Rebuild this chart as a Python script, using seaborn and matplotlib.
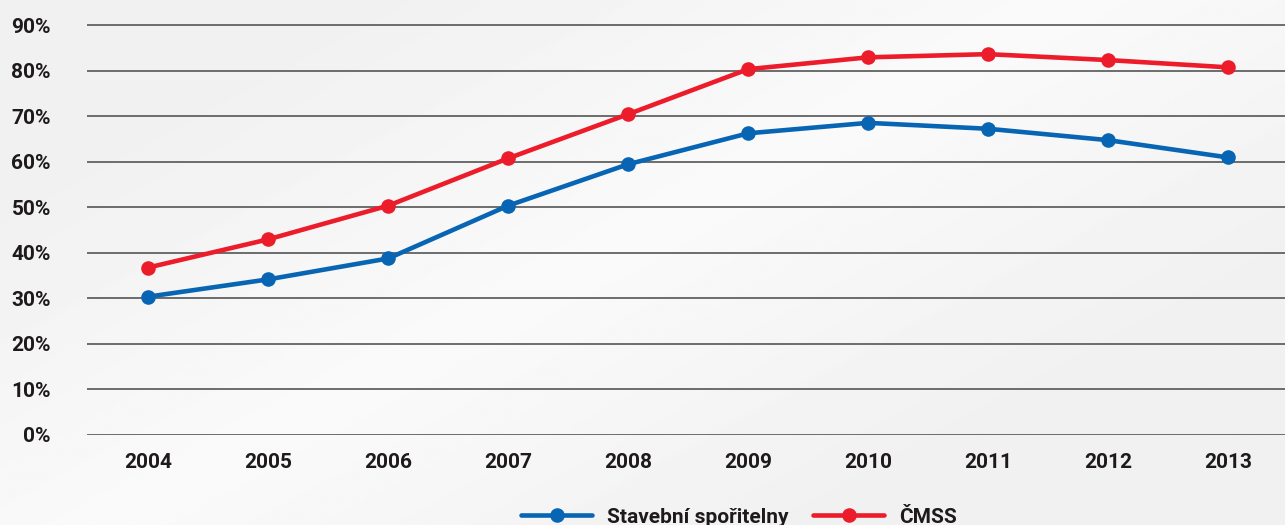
import numpy as np
import pandas as pd
import matplotlib
matplotlib.use("Agg")
import matplotlib.pyplot as plt
import seaborn as sns
from matplotlib.lines import Line2D

years = [2004, 2005, 2006, 2007, 2008, 2009, 2010, 2011, 2012, 2013]
stavebni = [30.4, 34.2, 38.8, 50.4, 59.5, 66.3, 68.6, 67.3, 64.8, 61.0]
cmss = [36.8, 43.0, 50.4, 60.8, 70.5, 80.4, 83.0, 83.7, 82.4, 80.8]
series_names = ["Stavební spořitelny", "ČMSS"]
colors = ["#0765b4", "#ec1c2a"]
ytick_vals = [0, 10, 20, 30, 40, 50, 60, 70, 80, 90]
ytick_labels = [f"{v}%" for v in ytick_vals]

df = pd.DataFrame({
    "year": years * 2,
    "value": stavebni + cmss,
    "series": [series_names[0]] * len(years) + [series_names[1]] * len(years),
})

sns.set_theme(style="white")
FAM = ["Roboto", "DejaVu Sans"]
plt.rcParams["font.family"] = FAM

W, H = 1285, 525
fig = plt.figure(figsize=(W / 100, H / 100), dpi=100)
fig.patch.set_facecolor("#f2f2f2")

# background gradient
bg = fig.add_axes([0, 0, 1, 1], zorder=-10)
yy, xx = np.mgrid[0:1:200j, 0:1:400j]
grad = 0.945 + 0.035 * np.clip(1 - 1.6 * np.abs((xx * 1.2 + yy * 0.9) - 1.0), 0, 1)
bg.imshow(grad, cmap="gray", vmin=0, vmax=1, aspect="auto", extent=[0, 1, 0, 1])
bg.axis("off")

ax = fig.add_axes([87 / W, (H - 435) / H, 1 - 87 / W, 435 / H])
ax.set_facecolor("none")
sns.lineplot(data=df, x="year", y="value", hue="series", palette=colors,
             marker="o", markersize=10.5, markeredgewidth=0, linewidth=3.3,
             ax=ax, legend=False, zorder=3)

ax.set_xlim(2003.49, 2013.475)
ax.set_ylim(0, 95.6)
ax.set_yticks(ytick_vals)
ax.set_yticklabels(ytick_labels)
ax.set_xticks(years)
ax.set_xticklabels([str(y) for y in years])
ax.yaxis.grid(True, color="#555555", linewidth=1.2)
ax.xaxis.grid(False)
for s in ax.spines.values():
    s.set_visible(False)
ax.tick_params(axis="both", length=0, labelsize=15, labelcolor="#1e1a1b")
ax.tick_params(axis="y", pad=26)
ax.tick_params(axis="x", pad=13)
for lbl in ax.get_xticklabels() + ax.get_yticklabels():
    lbl.set_fontweight("bold")
ax.set_xlabel("")
ax.set_ylabel("")

handles = [Line2D([0], [0], color=c, lw=3.3, marker="o", markersize=10.5, markeredgewidth=0)
           for c in colors]
leg = fig.legend(handles, series_names, loc="center", bbox_to_anchor=(0.575, 0.015),
                 ncol=2, frameon=False, handlelength=3.4, columnspacing=1.2,
                 handletextpad=0.7,
                 prop={"family": FAM, "weight": "bold", "size": 15})
for t in leg.get_texts():
    t.set_color("#1e1a1b")

fig.savefig("out.png", dpi=100, facecolor=fig.get_facecolor())
